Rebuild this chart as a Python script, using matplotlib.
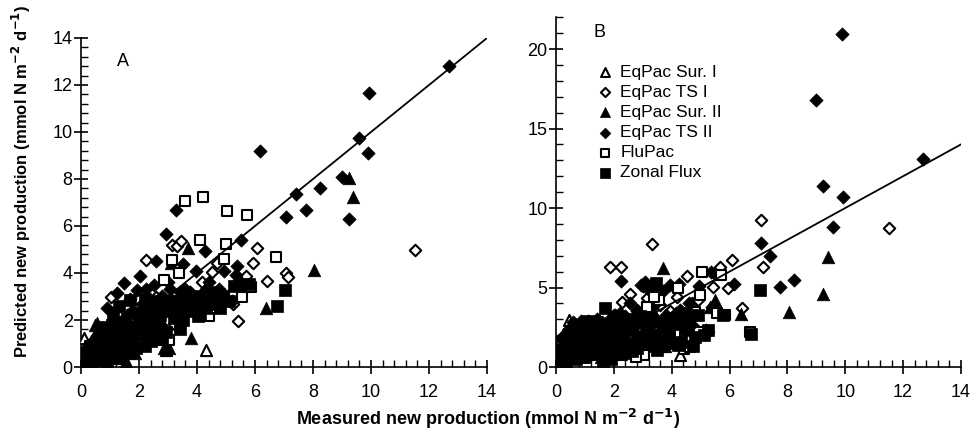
import numpy as np
import matplotlib
matplotlib.use("Agg")
import matplotlib.pyplot as plt
from matplotlib.ticker import MultipleLocator

plt.rcParams['font.family'] = ['Liberation Sans', 'DejaVu Sans']

# EqPac Sur. I  (open triangles)
sur1_meas = [0.10, 0.45, 2.92, 4.30, 0.25, 0.60, 0.35, 1.20, 0.80]
sur1_predA = [1.25, 0.90, 0.74, 0.74, 0.50, 1.00, 0.30, 0.40, 0.60]
sur1_predB = [1.50, 2.94, 0.90, 0.74, 0.60, 1.90, 0.40, 0.80, 1.00]

# EqPac TS I  (open diamonds)
ts1_meas = [1.02, 1.31, 1.87, 2.23, 2.29, 2.57, 3.15, 3.20, 3.32, 3.44, 3.95, 4.18, 4.53, 4.70,
            5.25, 5.43, 5.68, 5.94, 6.08, 6.43, 7.08, 7.15, 11.50,
            0.40, 0.80, 1.60, 2.00, 2.80, 3.60, 4.90]
ts1_predA = [2.98, 2.16, 2.30, 4.57, 2.60, 2.96, 5.21, 1.84, 5.13, 5.35, 2.79, 3.60, 4.03, 4.43,
             2.70, 1.97, 3.86, 4.43, 5.06, 3.67, 4.00, 3.83, 4.96,
             0.60, 1.30, 1.90, 2.10, 2.50, 3.00, 3.10]
ts1_predB = [2.70, 2.00, 6.30, 6.26, 4.10, 4.58, 4.31, 3.05, 7.73, 4.52, 3.50, 4.41, 5.71, 4.00,
             2.20, 5.04, 6.30, 5.00, 6.76, 3.68, 9.24, 6.30, 8.72,
             1.00, 2.20, 2.80, 3.30, 3.60, 3.90, 4.20]

# EqPac Sur. II  (filled triangles)
sur2_meas = [9.24, 9.39, 8.05, 3.69, 3.09, 6.39, 3.78, 3.05, 2.86, 1.54, 0.50, 0.56, 5.33,
             0.20, 0.35, 0.80, 1.00, 1.30, 2.00, 2.40, 0.70, 1.60, 4.50, 5.50, 0.10, 0.30,
             0.05, 0.15, 0.25, 0.45, 0.60, 0.85, 0.95, 1.10, 1.20, 1.45, 1.70, 1.85, 2.20, 2.60,
             3.40, 4.10]
sur2_predA = [8.04, 7.23, 4.14, 5.06, 4.43, 2.51, 1.23, 0.81, 0.81, 0.24, 1.80, 1.87, 3.72,
              0.70, 1.10, 1.40, 0.90, 1.50, 2.00, 2.20, 0.50, 1.00, 3.00, 3.60, 0.20, 0.40,
              0.30, 0.90, 0.30, 1.30, 0.70, 1.00, 1.70, 0.50, 1.90, 1.10, 1.70, 0.60, 1.60, 2.10,
              2.00, 3.00]
sur2_predB = [4.58, 6.89, 3.47, 6.20, 3.20, 3.36, 1.30, 1.60, 1.00, 0.60, 2.00, 1.50, 3.80,
              1.00, 0.80, 2.30, 1.80, 2.60, 2.90, 3.10, 1.20, 1.90, 3.00, 4.20, 0.30, 0.70,
              0.50, 1.20, 2.10, 0.90, 2.50, 1.40, 2.70, 1.10, 2.30, 2.90, 0.90, 2.40, 2.00, 1.40,
              3.40, 1.90]

# EqPac TS II  (filled diamonds)
ts2_meas = [12.70, 9.93, 9.90, 9.57, 8.99, 9.24, 6.16, 7.40, 7.07, 8.24, 7.75, 5.50,
            3.26, 2.93, 2.57, 2.03, 1.48, 0.91, 2.23, 5.39, 4.93, 4.26, 3.95, 2.52, 1.94, 1.25, 3.06, 5.35,
            1.70, 2.80, 3.40, 3.70, 4.30, 4.60, 1.10, 0.50, 0.30, 0.70, 1.50, 2.20, 3.00, 3.50, 3.80,
            5.20, 5.50, 0.05, 0.15, 0.40, 0.60, 0.90,
            0.10, 0.20, 0.25, 0.35, 0.45, 0.55, 0.65, 0.75, 0.85, 0.95, 1.05, 1.15, 1.30, 1.40,
            1.60, 1.80, 2.10, 2.40, 2.70, 3.10, 3.30, 3.60, 4.00, 4.40,
            0.08, 0.18, 0.28, 0.38, 0.48, 0.58, 0.68, 0.78, 0.88, 0.98, 1.08, 1.22, 1.35, 1.55,
            1.75, 1.95, 2.15, 2.35, 2.55, 2.75, 2.95, 3.15, 3.35, 3.55, 3.75, 3.95, 4.15, 4.35,
            4.55, 4.75]
ts2_predA = [12.79, 11.66, 9.11, 9.74, 8.09, 6.31, 9.20, 7.38, 6.37, 7.62, 6.66, 5.42,
             6.67, 5.66, 4.50, 3.86, 3.57, 2.51, 3.32, 4.28, 4.07, 4.92, 4.07, 3.50, 3.29, 3.15, 3.30, 3.90,
             2.90, 3.00, 3.20, 2.90, 3.30, 3.10, 2.00, 1.20, 0.60, 1.50, 2.00, 2.50, 3.60, 4.40, 3.00,
             2.80, 3.40, 0.10, 0.30, 0.50, 0.90, 1.10,
             0.40, 0.20, 0.80, 0.35, 0.70, 0.50, 1.00, 0.70, 1.30, 0.60, 1.50, 1.10, 1.80, 1.30,
             2.20, 1.60, 2.70, 2.00, 2.60, 2.90, 2.50, 3.30, 2.80, 3.60,
             0.15, 0.50, 0.10, 0.90, 0.30, 1.20, 0.40, 0.90, 0.30, 1.20, 0.70, 1.40, 0.80, 1.50,
             2.40, 1.90, 2.20, 2.70, 2.30, 1.80, 2.70, 2.30, 2.90, 2.60, 3.20, 2.50, 3.00, 2.70,
             2.90, 3.30]
ts2_predB = [13.09, 10.71, 20.95, 8.82, 16.80, 11.39, 5.25, 7.00, 7.77, 5.46, 5.04, 5.88,
             4.80, 5.15, 4.00, 3.30, 2.90, 2.70, 5.42, 3.80, 5.08, 5.20, 5.15, 2.90, 2.60, 2.40, 5.36, 5.95,
             2.70, 3.50, 3.90, 4.80, 3.60, 4.00, 2.90, 1.80, 1.00, 2.20, 2.40, 3.40, 5.10, 4.60, 3.30,
             2.30, 3.50, 0.20, 0.50, 1.20, 1.60, 2.00,
             0.60, 0.90, 1.40, 0.70, 2.40, 1.30, 2.70, 1.00, 2.90, 1.50, 2.20, 2.80, 1.60, 3.00,
             2.10, 2.90, 1.90, 3.20, 2.50, 3.30, 2.00, 2.70, 3.10, 2.40,
             0.30, 1.80, 0.40, 2.00, 0.60, 2.80, 1.70, 2.50, 0.90, 1.90, 2.60, 1.20, 2.00, 2.60,
             1.80, 2.40, 2.90, 1.50, 2.70, 2.10, 2.90, 1.80, 3.20, 2.20, 3.00, 2.60, 3.40, 2.90,
             3.20, 2.60]

# FluPac  (open squares)
flu_meas = [3.57, 4.20, 5.04, 5.71, 4.11, 4.99, 6.71, 4.94, 3.15, 3.38, 5.56, 5.85, 4.41,
            2.86, 3.03, 2.75, 4.64, 4.79, 2.27, 1.20, 0.60, 1.80]
flu_predA = [7.05, 7.23, 6.62, 6.48, 5.39, 5.25, 4.67, 4.60, 4.57, 4.00, 2.98, 3.40, 2.16,
             3.72, 1.16, 1.16, 2.50, 2.60, 1.50, 0.70, 0.30, 1.00]
flu_predB = [4.20, 4.94, 5.99, 5.78, 2.10, 4.52, 2.21, 2.21, 3.80, 4.40, 3.40, 3.26, 1.16,
             3.00, 0.74, 0.65, 1.26, 3.47, 0.75, 1.00, 0.50, 0.60]

# Zonal Flux  (filled squares)
zon_meas = [7.04, 6.75, 5.79, 5.26, 4.05, 3.45, 2.80, 1.71, 1.08, 1.68,
            0.30, 0.60, 0.90, 1.20, 1.50, 2.00, 2.30, 2.60, 3.00, 3.30, 3.70, 4.30, 4.60,
            4.90, 5.10, 1.30, 2.50, 1.00, 0.15, 0.45,
            0.05, 0.20, 0.40, 0.50, 0.70, 0.80, 1.00, 1.10, 1.40, 1.60, 1.90, 2.10, 2.20, 2.40,
            2.70, 2.90, 3.20, 3.50, 3.90, 4.20, 4.50, 4.80, 1.25, 0.90, 1.90,
            0.12, 0.32, 0.52, 0.72, 0.92, 1.12, 1.32, 1.52, 1.72, 1.92, 2.12, 2.32, 2.52, 2.72,
            2.92, 3.12, 3.32, 3.52, 3.72, 3.92, 4.12, 4.32, 4.52, 4.72, 1.62, 2.22, 2.62, 3.42,
            0.22, 0.42]
zon_predA = [3.29, 2.61, 3.53, 3.43, 2.16, 2.37, 1.23, 0.67, 1.80, 2.87,
             0.40, 0.80, 1.20, 1.60, 1.30, 1.80, 2.20, 2.50, 2.60, 2.80, 2.50, 2.90, 2.70,
             3.00, 2.80, 2.60, 1.60, 0.50, 0.20, 0.30,
             0.05, 0.60, 0.20, 1.00, 0.30, 1.70, 0.90, 2.30, 0.90, 1.60, 2.30, 1.40, 2.90, 1.10,
             1.90, 2.40, 2.10, 2.90, 2.40, 2.60, 3.20, 2.50, 0.40, 0.20, 0.80,
             0.30, 0.90, 0.60, 1.20, 1.50, 0.60, 1.20, 1.90, 1.20, 1.70, 2.00, 1.70, 2.80, 2.20,
             1.50, 2.70, 2.30, 2.00, 2.80, 3.00, 2.20, 2.50, 2.80, 2.90, 0.60, 0.90, 1.30, 1.60,
             0.20, 0.40]
zon_predB = [4.87, 2.10, 3.30, 2.31, 1.50, 5.29, 1.20, 1.00, 2.50, 3.68,
             0.50, 1.00, 1.40, 1.90, 1.20, 2.20, 2.60, 2.30, 2.80, 1.60, 1.30, 3.10, 2.80,
             3.30, 2.00, 2.80, 1.50, 0.60, 0.30, 0.80,
             0.10, 0.40, 0.90, 1.60, 0.50, 2.00, 1.20, 2.50, 0.80, 1.50, 1.00, 2.70, 1.30, 0.90,
             3.00, 1.90, 2.40, 1.10, 2.20, 1.40, 3.40, 1.90, 1.70, 0.60, 0.50,
             1.10, 0.20, 2.20, 0.80, 1.80, 2.90, 1.40, 2.10, 2.70, 1.60, 2.30, 1.80, 2.50, 1.20,
             3.20, 2.10, 2.90, 1.70, 2.40, 1.90, 2.70, 1.60, 2.30, 1.30, 0.40, 0.80, 1.00, 1.30,
             0.60, 1.30]

series = [
    ("EqPac Sur. I", sur1_meas, sur1_predA, sur1_predB, "^", False, 64),
    ("EqPac TS I", ts1_meas, ts1_predA, ts1_predB, "D", False, 34),
    ("EqPac Sur. II", sur2_meas, sur2_predA, sur2_predB, "^", True, 82),
    ("EqPac TS II", ts2_meas, ts2_predA, ts2_predB, "D", True, 46),
    ("FluPac", flu_meas, flu_predA, flu_predB, "s", False, 58),
    ("Zonal Flux", zon_meas, zon_predA, zon_predB, "s", True, 66),
]

fig = plt.figure(figsize=(9.77, 4.48), dpi=100)
axA = fig.add_axes([0.0829, 0.1808, 0.4156, 0.7344])
axB = fig.add_axes([0.5691, 0.1808, 0.4145, 0.7808])


def draw(ax, col, ymax, ymajor, yminor):
    for name, meas, pa, pb, mk, filled, s in series:
        y = pa if col == 0 else pb
        if filled:
            ax.scatter(meas, y, marker=mk, s=s, facecolor="black", edgecolor="black",
                       linewidths=0.5, label=name, zorder=3)
        else:
            ax.scatter(meas, y, marker=mk, s=s, facecolor="white", edgecolor="black",
                       linewidths=1.5, label=name, zorder=3)
    ax.plot([0, 14], [0, 14], color="black", lw=1.3, zorder=4)
    ax.set_xlim(0, 14)
    ax.set_ylim(0, ymax)
    for sp in ["top", "right"]:
        ax.spines[sp].set_visible(False)
    ax.spines["left"].set_linewidth(1.2)
    ax.spines["bottom"].set_linewidth(1.2)
    ax.xaxis.set_major_locator(MultipleLocator(2))
    ax.xaxis.set_minor_locator(MultipleLocator(0.4))
    ax.yaxis.set_major_locator(MultipleLocator(ymajor))
    ax.yaxis.set_minor_locator(MultipleLocator(yminor))
    ax.tick_params(which="major", direction="inout", length=10, width=1.2, labelsize=13)
    ax.tick_params(which="minor", direction="in", length=5, width=1.0)
    ax.tick_params(axis="x", which="major", pad=7)
    ax.tick_params(axis="y", which="major", pad=1)


draw(axA, 0, 14, 2, 0.4)
draw(axB, 1, 22, 5, 1)
axB.set_yticks([0, 5, 10, 15, 20])

axA.text(0.103, 0.93, "A", transform=axA.transAxes, fontsize=13, ha="center", va="center")
axB.text(0.108, 0.955, "B", transform=axB.transAxes, fontsize=13, ha="center", va="center")

axB.legend(loc="upper left", bbox_to_anchor=(0.082, 0.89), frameon=False, fontsize=12.5,
           handlelength=0.8, handletextpad=0.5, labelspacing=0.29, borderpad=0,
           scatterpoints=1, markerscale=0.8)

fig.text(0.022, 0.595, "Predicted new production (mmol N m$^{\\mathbf{-2}}$ d$^{\\mathbf{-1}}$)",
         rotation=90, ha="center", va="center", fontsize=12, fontweight="bold")
fig.text(0.5, 0.065, "Measured new production (mmol N m$^{\\mathbf{-2}}$ d$^{\\mathbf{-1}}$)",
         ha="center", va="center", fontsize=13, fontweight="bold")

fig.savefig("out.png", dpi=100)
